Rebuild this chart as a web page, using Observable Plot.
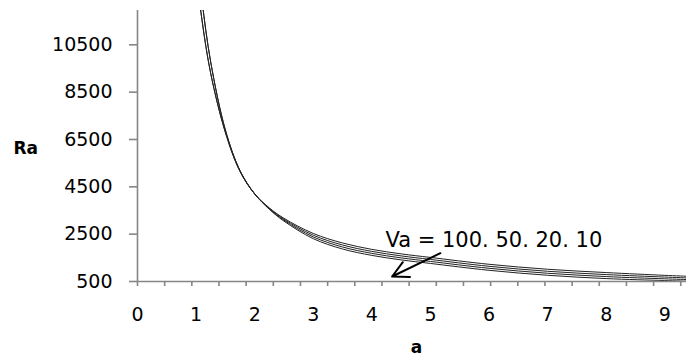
<!DOCTYPE html>
<html>
<head>
<meta charset="utf-8">
<script src="https://cdn.jsdelivr.net/npm/d3@7"></script>
<script src="https://cdn.jsdelivr.net/npm/@observablehq/plot@0.6"></script>
<style>
  html, body { margin: 0; padding: 0; background: #fff; }
  #chart { width: 686px; height: 362px; }
</style>
</head>
<body>
<div id="chart"></div>
<script>
// Parameter a (x values)
const aValues = [1.0, 1.1, 1.25, 1.5, 1.75, 2, 2.25, 2.5, 3, 3.5, 4, 4.5, 5, 6, 7, 8, 9, 9.4];
// Ra for each Va series
const ra100 = [13680, 11560, 9285, 6800, 5150, 4200, 3610, 3170, 2530, 2127, 1857, 1667, 1517, 1227, 1017, 877, 760, 720];
const ra50  = [13680, 11560, 9285, 6800, 5150, 4200, 3590, 3130, 2457, 2042, 1772, 1582, 1432, 1142, 932, 792, 687, 650];
const ra20  = [14780, 12390, 9765, 6900, 5180, 4200, 3570, 3090, 2383, 1958, 1688, 1498, 1348, 1058, 848, 708, 613, 580];
const ra10  = [14780, 12390, 9765, 6900, 5180, 4200, 3550, 3050, 2310, 1873, 1603, 1413, 1263, 973, 763, 623, 540, 510];
const seriesNames = ["100", "50", "20", "10"];
const seriesValues = [ra100, ra50, ra20, ra10];

// Axis ticks
const yTicks = [500, 2500, 4500, 6500, 8500, 10500];
const xLabelTicks = [0, 1, 2, 3, 4, 5, 6, 7, 8, 9];
const xMinorStep = 0.4636;
const xMinorTicks = d3.range(0, 9.37, xMinorStep);

// Annotation
const annoText = [{a: 4.232, Ra: 2233, label: "Va = 100. 50. 20. 10"}];
const annoArrow = [{a1: 5.17, Ra1: 1696, a2: 4.346, Ra2: 711}];

const data = seriesNames.flatMap((name, i) =>
  aValues.map((a, j) => ({a, Ra: seriesValues[i][j], Va: name})));

const FONT = "DejaVu Sans";
const AXIS = "#868686";

const chart = Plot.plot({
  width: 686,
  height: 362,
  marginLeft: 137,
  marginRight: 0,
  marginTop: 10,
  marginBottom: 81,
  style: {fontFamily: FONT, background: "#fff", color: "#000"},
  x: {domain: [0, 9.37]},
  y: {domain: [500, 11950]},
  marks: [
    // curves
    Plot.line(data, {x: "a", y: "Ra", z: "Va", stroke: "#222", strokeWidth: 1, curve: "catmull-rom", clip: true}),
    // axis lines
    Plot.ruleX([0], {stroke: AXIS, strokeWidth: 1.6}),
    Plot.ruleY([500], {stroke: AXIS, strokeWidth: 1.6}),
    // y ticks and labels
    Plot.axisY({ticks: yTicks, tickSize: 8, tickFormat: () => "", label: null, stroke: AXIS, strokeWidth: 1.6}),
    Plot.axisY({ticks: yTicks, tickSize: 0, tickPadding: 25, tickFormat: d => String(d), label: null, fontSize: 19, fontFamily: FONT, fill: "#000"}),
    // x minor ticks and labels
    Plot.axisX({ticks: xMinorTicks, tickSize: 5, tickFormat: () => "", label: null, stroke: AXIS, strokeWidth: 1.6}),
    Plot.axisX({ticks: xLabelTicks, tickSize: 0, tickPadding: 26, tickFormat: d => String(d), label: null, fontSize: 19, fontFamily: FONT, fill: "#000"}),
    // axis titles
    Plot.text(["Ra"], {frameAnchor: "left", textAnchor: "start", dx: -124, dy: 2.5, fontSize: 17, fontWeight: "bold", fontFamily: FONT, fill: "#000"}),
    Plot.text(["a"], {frameAnchor: "bottom", dx: 4.5, dy: 71, fontSize: 17, fontWeight: "bold", fontFamily: FONT, fill: "#000"}),
    // annotation
    Plot.text(annoText, {x: "a", y: "Ra", text: "label", textAnchor: "start", fontSize: 21, fontFamily: FONT, fill: "#000"}),
    Plot.arrow(annoArrow, {x1: "a1", y1: "Ra1", x2: "a2", y2: "Ra2", stroke: "#000", strokeWidth: 2, headLength: 16, headAngle: 55})
  ]
});
document.getElementById("chart").appendChild(chart);
</script>
</body>
</html>
